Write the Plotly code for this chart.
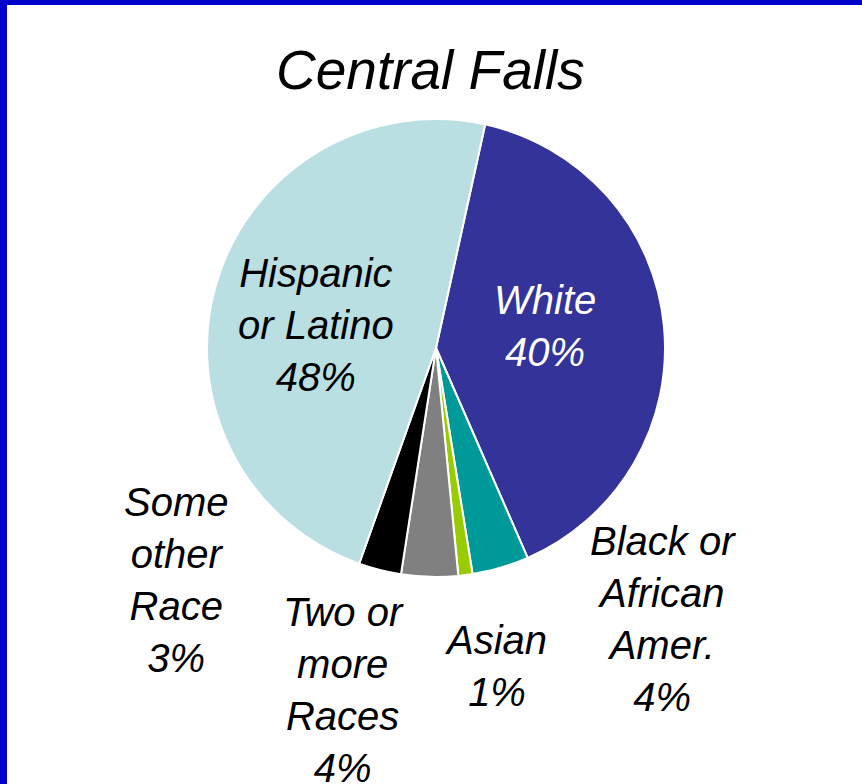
import plotly.graph_objects as go

W, H = 862, 784

title_text = "Central Falls"
categories = ["White", "Black or African Amer.", "Asian", "Two or more Races",
              "Some other Race", "Hispanic or Latino"]
label_text = ["White", "Black or<br>African<br>Amer.", "Asian", "Two or<br>more<br>Races",
              "Some<br>other<br>Race", "Hispanic<br>or Latino"]
values = [40, 4, 1, 4, 3, 48]
colors = ["#333399", "#009999", "#99CC00", "#808080", "#000000", "#B9DFE3"]
label_colors = ["white", "black", "black", "black", "black", "black"]
# label anchor positions in pixels (center x, center y)
label_pos = [(545, 326), (663, 619), (496, 666), (343, 690), (176, 580), (316, 325)]

def px(x, y):
    return x / W, 1 - y / H

cx0, cx1 = 207 / W, 665 / W
cy0, cy1 = 1 - 577 / H, 1 - 119 / H

fig = go.Figure(go.Pie(
    labels=categories,
    values=values,
    sort=False,
    direction="clockwise",
    rotation=12.4,
    marker=dict(colors=colors, line=dict(color="white", width=2)),
    textinfo="none",
    hoverinfo="label+percent",
    showlegend=False,
    domain=dict(x=[cx0, cx1], y=[cy0, cy1]),
))

annotations = []
for txt, v, c, (x, y) in zip(label_text, values, label_colors, label_pos):
    ax, ay = px(x, y)
    annotations.append(dict(
        text=f"{txt}<br>{v}%", x=ax, y=ay, xref="paper", yref="paper",
        xanchor="center", yanchor="middle", showarrow=False, align="center",
        font=dict(family="Liberation Sans, Arial, sans-serif", size=40, color=c, style="italic"),
    ))
tx, ty = px(430, 70)
annotations.append(dict(
    text=title_text, x=tx, y=ty, xref="paper", yref="paper",
    xanchor="center", yanchor="middle", showarrow=False,
    font=dict(family="Liberation Sans, Arial, sans-serif", size=55, color="black", style="italic"),
))

shapes = [
    dict(type="rect", xref="paper", yref="paper", x0=0, x1=1, y0=1 - 5 / H, y1=1,
         fillcolor="#0000CC", line=dict(width=0), layer="above"),
    dict(type="rect", xref="paper", yref="paper", x0=0, x1=7 / W, y0=0, y1=1,
         fillcolor="#0000CC", line=dict(width=0), layer="above"),
]

fig.update_layout(
    width=W, height=H,
    margin=dict(l=0, r=0, t=0, b=0),
    paper_bgcolor="white", plot_bgcolor="white",
    annotations=annotations, shapes=shapes,
)

fig.write_html("out.html", config={"displayModeBar": False},
               post_script="document.body.style.margin='0';")
